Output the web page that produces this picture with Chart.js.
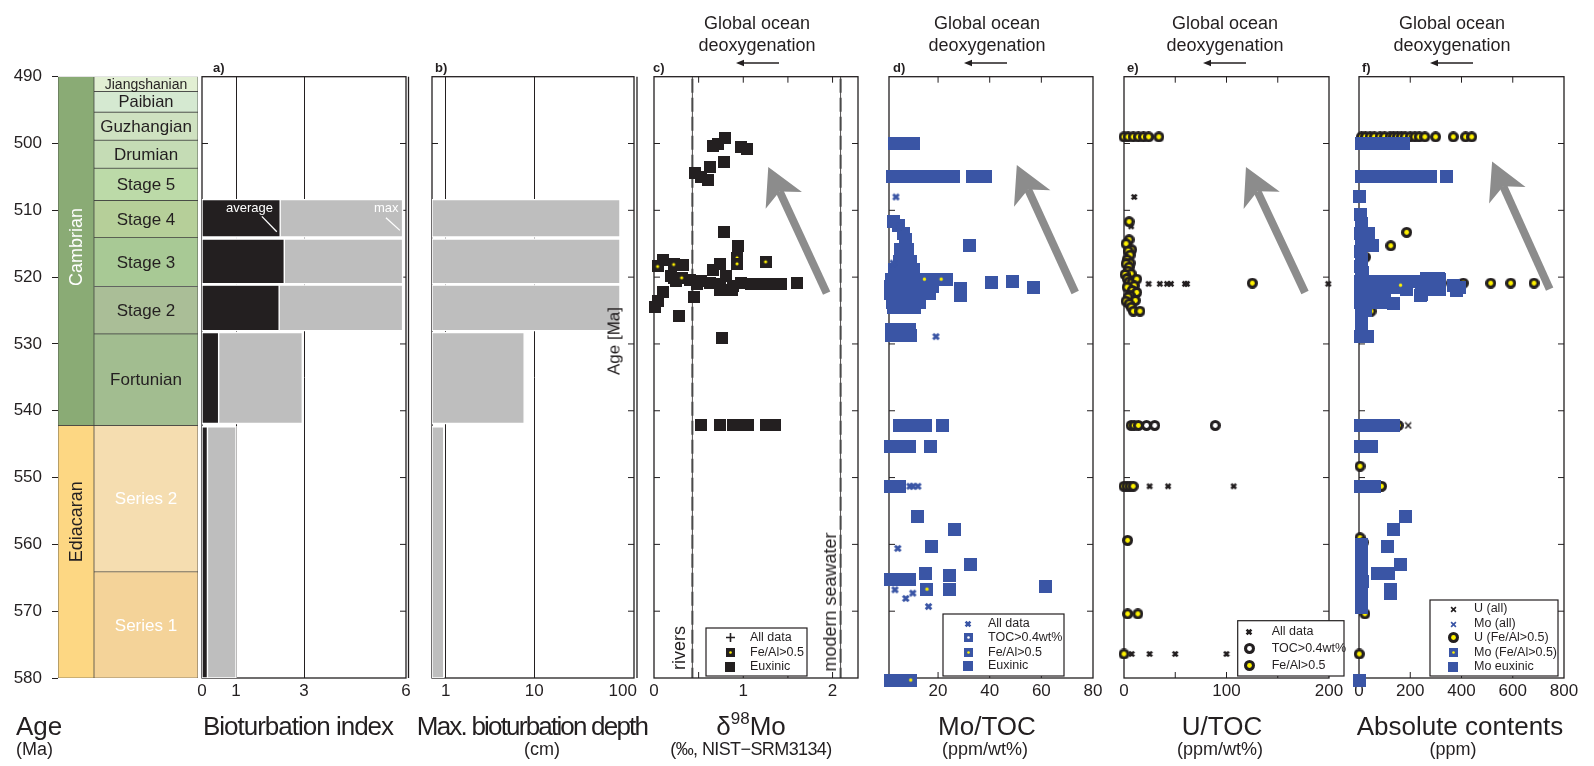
<!DOCTYPE html>
<html>
<head>
<meta charset="utf-8">
<script src="https://cdn.jsdelivr.net/npm/chart.js@4.4.1/dist/chart.umd.min.js"></script>
<style>
html, body { margin: 0; padding: 0; background: #fff; }
#wrap { position: relative; width: 1594px; height: 766px; overflow: hidden; font-family: 'Liberation Sans', Arial, sans-serif; color: #231f20; }
#wrap canvas { position: absolute; top: 0; }
.t { position: absolute; white-space: nowrap; line-height: 1; }
.ttl { font-size: 26px; top: 713px; transform: translateX(-50%); }
.sub { font-size: 18px; top: 740px; transform: translateX(-50%); }
.hdr { font-size: 18px; line-height: 21.5px; text-align: center; top: 13px; transform: translateX(-50%); }
.lab { font-size: 13px; font-weight: bold; top: 61px; }
.rot { transform: translate(-50%, -50%) rotate(-90deg); font-size: 18px; }
.arr { position: absolute; top: 58px; }
</style>
</head>
<body>
<div id="wrap">
  <canvas id="period"></canvas>
  <canvas id="stage"></canvas>
  <canvas id="panelA"></canvas>
  <canvas id="panelB"></canvas>
  <canvas id="panelC"></canvas>
  <canvas id="panelD"></canvas>
  <canvas id="panelE"></canvas>
  <canvas id="panelF"></canvas>

  <div class="t" style="left:16px;top:713px;font-size:26px">Age</div>
  <div class="t" style="left:16px;top:740px;font-size:18px">(Ma)</div>
  <div class="t ttl" style="left:298px;letter-spacing:-1px">Bioturbation index</div>
  <div class="t ttl" style="left:532px;letter-spacing:-1.8px">Max. bioturbation depth</div>
  <div class="t sub" style="left:542px">(cm)</div>
  <div class="t ttl" style="left:751px">δ<span style="font-size:17px;position:relative;top:-11px">98</span>Mo</div>
  <div class="t sub" style="left:751px;letter-spacing:-0.6px">(‰, NIST−SRM3134)</div>
  <div class="t ttl" style="left:987px">Mo/TOC</div>
  <div class="t sub" style="left:985px">(ppm/wt%)</div>
  <div class="t ttl" style="left:1222px">U/TOC</div>
  <div class="t sub" style="left:1220px">(ppm/wt%)</div>
  <div class="t ttl" style="left:1460px">Absolute contents</div>
  <div class="t sub" style="left:1453px">(ppm)</div>

  <div class="t hdr" style="left:757px">Global ocean<br>deoxygenation</div>
  <div class="t hdr" style="left:987px">Global ocean<br>deoxygenation</div>
  <div class="t hdr" style="left:1225px">Global ocean<br>deoxygenation</div>
  <div class="t hdr" style="left:1452px">Global ocean<br>deoxygenation</div>
  <svg class="arr" style="left:736px" width="43" height="10"><line x1="5" y1="5" x2="43" y2="5" stroke="#231f20" stroke-width="1.3"/><path d="M0 5 L8 1.8 L8 8.2 Z" fill="#231f20"/></svg>
  <svg class="arr" style="left:964px" width="43" height="10"><line x1="5" y1="5" x2="43" y2="5" stroke="#231f20" stroke-width="1.3"/><path d="M0 5 L8 1.8 L8 8.2 Z" fill="#231f20"/></svg>
  <svg class="arr" style="left:1203px" width="43" height="10"><line x1="5" y1="5" x2="43" y2="5" stroke="#231f20" stroke-width="1.3"/><path d="M0 5 L8 1.8 L8 8.2 Z" fill="#231f20"/></svg>
  <svg class="arr" style="left:1430px" width="43" height="10"><line x1="5" y1="5" x2="43" y2="5" stroke="#231f20" stroke-width="1.3"/><path d="M0 5 L8 1.8 L8 8.2 Z" fill="#231f20"/></svg>

  <div class="t lab" style="left:213px">a)</div>
  <div class="t lab" style="left:435px">b)</div>
  <div class="t lab" style="left:653px">c)</div>
  <div class="t lab" style="left:893px">d)</div>
  <div class="t lab" style="left:1127px">e)</div>
  <div class="t lab" style="left:1362px">f)</div>

  <div class="t" style="left:226px;top:201px;font-size:13px;color:#fff">average</div>
  <div class="t" style="left:374px;top:201px;font-size:13px;color:#fff">max</div>
  <div class="t rot" style="left:614px;top:341px;font-size:17px">Age [Ma]</div>
  <div class="t rot" style="left:679px;top:648px">rivers</div>
  <div class="t rot" style="left:830px;top:602px">modern seawater</div>
</div>

<script>
const INK = "#231f20";
const FONT = "'Liberation Sans', Arial, sans-serif";
const YELLOW = "#fff200";
const BLUE = "#3a55a5";
const BAR_GREY = "#bebebe";

const PADX = 30, TOP = 76.7, BOTTOM = 678, XAXIS_H = 40, H = 766;

// ---- age axis ----
const ageTicks = [490, 500, 510, 520, 530, 540, 550, 560, 570, 580];

// ---- timescale ----
const periodNames = ["Cambrian", "Ediacaran"];
const periodTop = [490, 542.2];
const periodBase = [542.2, 580];
const periodColors = ["#8aab75", "#fdd783"];
const periodTextColors = ["#ffffff", INK];
const periodLabelAge = [515.5, 556.6];

const stageNames = ["Jiangshanian", "Paibian", "Guzhangian", "Drumian", "Stage 5", "Stage 4", "Stage 3", "Stage 2", "Fortunian", "Series 2", "Series 1"];
const stageTop = [490, 492.2, 495.3, 499.5, 503.7, 508.5, 514.1, 521.4, 528.5, 542.2, 564.1];
const stageBase = [492.2, 495.3, 499.5, 503.7, 508.5, 514.1, 521.4, 528.5, 542.2, 564.1, 580];
const stageColors = ["#e2efd3", "#d5e9d1", "#cfe2c1", "#c5dcb5", "#bcdaa8", "#b6cf99", "#a8c995", "#aabe97", "#a2bd90", "#f5ddb0", "#f4d399"];
const stageTextColors = [INK, INK, INK, INK, INK, INK, INK, INK, INK, "#ffffff", "#ffffff"];
const stageFontSize = [14, 16.5, 17, 17, 17, 17, 17, 17, 17, 17, 17];

// ---- a) bioturbation index and b) max. depth ----
const intervalTop = [508.4, 514.3, 521.2, 528.3, 542.4];
const intervalBase = [514.0, 521.0, 528.0, 541.9, 580];
const bioIndexAvg = [2.3, 2.42, 2.27, 0.49, 0.16];
const bioIndexMax = [5.9, 5.9, 5.9, 2.95, 1.0];
const maxDepthCm = [93, 93, 93, 7.7, 0.95];
const aTickLabels = [0, 1, 3, 6];
const bTickLabels = [1, 10, 100];
const bGridAt = [1, 10];

// ---- c) d98Mo  [value, age] ----
const cAllData = [];
const cFeAl = [[0.93, 517.1], [0.93, 518.0], [1.25, 517.7], [0.04, 518.4], [0.22, 518.1], [0.31, 520.1]];
const cEuxinic = [
  [0.66, 500.3], [0.72, 500.0], [0.80, 499.2], [0.97, 500.5], [1.04, 500.8], [0.63, 503.5], [0.78, 502.8],
  [0.46, 504.4], [0.53, 505.0], [0.60, 505.4],
  [0.78, 513.3], [0.94, 515.3], [0.10, 517.5], [0.32, 518.2], [0.22, 520.1], [0.19, 519.9], [0.25, 520.6],
  [0.40, 520.4], [0.53, 520.6], [0.48, 521.0], [0.66, 518.9], [0.74, 518.1], [0.63, 520.9], [0.74, 521.1],
  [0.81, 519.9], [0.89, 521.4], [0.98, 520.9], [1.09, 521.0], [1.22, 521.1], [1.32, 521.0], [1.42, 521.0],
  [1.60, 520.9], [0.74, 521.9], [0.87, 521.9], [0.10, 522.3], [0.05, 523.6], [0.01, 524.5], [0.45, 522.9],
  [0.28, 525.8], [0.76, 529.1],
  [0.53, 542.2], [0.74, 542.2], [0.89, 542.2], [1.0, 542.2], [1.05, 542.2], [1.25, 542.2], [1.35, 542.2]
];
const cTickLabels = [0, 1, 2];
const cInnerTicks = [0.5, 1, 1.5, 2];
const cRefLines = [0.43, 2.09];

// ---- d) Mo/TOC ----
const dAllData = [[3.7, 508], [5, 512.4], [2.6, 517.9], [19.2, 528.9], [9.1, 551.3], [10.3, 551.3], [12.2, 551.3],
  [4.4, 560.6], [3.3, 566.8], [7.5, 568.1], [10.2, 567.3], [16.3, 569.3]];
const dToc = [];
const dFeAl = [[14.7, 520.3], [21.2, 520.3], [15.7, 566.7], [9.4, 580.3]];
const dEuxinic = [
  [3, 500], [4.5, 500], [6, 500], [7.5, 500], [9, 500], [10.5, 500],
  [2.5, 505], [4, 505], [6, 505], [8, 505], [10, 505], [12, 505], [14, 505], [16, 505], [18, 505], [20, 505],
  [22, 505], [24, 505], [26, 505], [33.4, 505], [38.5, 505],
  [2.6, 511.7], [4.5, 512.2], [6.8, 513.4], [7.2, 514.4], [5.3, 515.9], [8, 515.9], [4.9, 517.6], [7.6, 517.6],
  [9.5, 517.6], [3.3, 518.9], [6.4, 518.9], [10.3, 518.9],
  [1.8, 520.4], [4.5, 520.4], [7.2, 520.4], [9.9, 520.4], [12.6, 520.4], [18, 520.4], [23.1, 520.4],
  [1.4, 521.4], [4.1, 521.4], [6.8, 521.4], [9.5, 521.4], [12.2, 521.4], [14.9, 521.4], [17.7, 521.4],
  [1.4, 522.5], [4.1, 522.5], [6.8, 522.5], [9.5, 522.5], [12.2, 522.5], [14.9, 522.5], [16.5, 522.5],
  [2.2, 523.8], [4.9, 523.8], [7.6, 523.8], [10.3, 523.8], [13, 523.8],
  [2.9, 524.6], [5.7, 524.6], [8.4, 524.6], [11, 524.6],
  [28.7, 521.7], [28.7, 522.7], [32, 515.3], [40.8, 520.8], [48.7, 520.7], [57, 521.6],
  [1.8, 527.9], [4.1, 527.9], [6.4, 527.9], [8.8, 527.9], [2, 528.7], [4.5, 528.7], [7, 528.7], [9.3, 528.7],
  [5, 542.2], [7, 542.2], [9, 542.2], [11, 542.2], [13, 542.2], [15, 542.2], [21.9, 542.2],
  [1.5, 545.3], [3.5, 545.3], [5.5, 545.3], [7.5, 545.3], [9, 545.3], [16.9, 545.3],
  [1.5, 551.3], [3, 551.3], [5, 551.3],
  [12, 555.9], [26.5, 557.8], [17.3, 560.3], [32.7, 563],
  [1.5, 565.3], [3.5, 565.3], [5.5, 565.3], [7.5, 565.3], [9, 565.3], [15.2, 564.4], [24.6, 564.6], [24.6, 566.8],
  [61.7, 566.3],
  [1.5, 580.4], [3.5, 580.4], [5.5, 580.4]
];
const dTickLabels = [20, 40, 60, 80];
const dInnerTicks = [20, 40, 60];

// ---- e) U/TOC ----
const eAllData = [[10, 508], [7, 512.4], [24, 521], [35, 521], [42, 521], [45.8, 521], [59.5, 521], [61.5, 521],
  [199.3, 521], [25, 551.3], [43, 551.3], [107, 551.3], [7.5, 576.4], [25, 576.4], [50, 576.4], [100, 576.4]];
const eToc = [[22, 542.2], [30, 542.2], [89, 542.2]];
const eFeAl = [
  [0, 499], [4, 499], [9, 499], [14, 499], [19, 499], [24, 499], [34, 499],
  [5, 511.7], [5, 514.4], [2, 515], [7.5, 515.9], [4, 516.1], [6, 516.7], [3, 517.4], [6, 517.9], [2, 518],
  [5, 518.5], [4, 519.1], [7, 519.5], [1, 519.6], [3, 520.2], [5, 520.7], [8, 520.8], [12.4, 520.3],
  [10, 521.3], [3, 521.5], [8, 522], [12.4, 522.3], [6, 522.8], [4, 523], [11, 523.5], [2, 523.6], [5, 524],
  [7, 524.5], [9.1, 525.1], [15.6, 525.1], [125.2, 520.9],
  [7, 542.2], [10, 542.2], [14, 542.2], [0, 551.3], [3, 551.3], [6, 551.3], [9, 551.3],
  [3.5, 559.4], [3.5, 570.4], [13.5, 570.4], [0, 576.4]
];
const eTickLabels = [0, 100, 200];
const eInnerTicks = [50, 100, 150];

// ---- f) absolute contents ----
const fUAll = [[192, 542.2]];
const fMoAll = [];
const fUFeAl = [
  [10, 499], [25, 499], [43, 499], [60, 499], [82, 499], [100, 499], [121, 499], [135, 499], [150, 499],
  [165, 499], [180, 499], [200, 499], [218, 499], [235, 499], [257, 499], [299, 499], [368, 499], [416, 499], [440, 499],
  [186, 513.3], [124, 515.3], [25, 517], [0, 520.9],
  [160, 520.9], [322, 520.9], [407, 520.9], [514, 520.9], [592, 520.9], [683, 520.9], [47, 525.1], [20, 524.5],
  [10, 542.2], [60, 542.2], [100, 542.2], [153, 542.2], [4, 548.3], [88, 551.3],
  [4, 559], [17, 559.7], [23, 570.4], [1, 576.4]
];
const fMoFeAl = [[162, 521.2]];
const fMoEuxinic = [
  [8, 500], [25, 500], [45, 500], [65, 500], [85, 500], [105, 500], [125, 500], [145, 500], [165, 500], [175, 500],
  [8, 505], [28, 505], [48, 505], [68, 505], [88, 505], [108, 505], [128, 505], [148, 505], [168, 505], [188, 505],
  [208, 505], [228, 505], [248, 505], [268, 505], [280, 505], [342, 505],
  [1, 508], [5, 510.7], [8, 512], [36, 513.4], [5, 513.5], [10, 514.8], [53, 515.3], [5, 516.2], [10, 517.4],
  [5, 518.4], [15, 519.3], [8, 519.8],
  [5, 520.6], [25, 520.6], [45, 520.6], [65, 520.6], [85, 520.6], [105, 520.6], [125, 520.6], [145, 520.6],
  [185, 520.6], [205, 520.6], [225, 520.6],
  [5, 521.6], [25, 521.6], [45, 521.6], [65, 521.6], [85, 521.6], [105, 521.6], [125, 521.6], [145, 521.6],
  [165, 521.6], [186, 521.8],
  [269, 520.3], [316, 520.3], [264, 520.2], [296, 520.5], [309, 520.2], [244, 522.6], [269, 521.8], [316, 521.8],
  [368, 521.3], [380, 522], [393, 521.5], [240, 522.8],
  [5, 522.7], [20, 522.7], [40, 522.7], [60, 522.7], [80, 522.7], [100, 522.7],
  [5, 523.8], [25, 523.8], [45, 523.8], [70, 523.8], [90, 523.8], [134, 523.9],
  [8, 525], [25, 525], [8, 526.3], [8, 527.6], [5, 528.9], [20, 528.9], [35, 528.9],
  [4, 542.2], [25, 542.2], [45, 542.2], [65, 542.2], [90, 542.2], [134, 542.2],
  [4, 545.3], [20, 545.3], [40, 545.3], [49, 545.3],
  [4, 551.3], [20, 551.3], [40, 551.3], [60, 551.3],
  [182, 555.9], [136, 557.8], [112, 560.3], [160, 563], [72, 564.4], [115, 564.4], [121, 566.7], [121, 567.3],
  [8, 560], [8, 561.5], [8, 563], [8, 564.5], [12, 565.5], [8, 566.5], [8, 568], [8, 569.5],
  [1, 580.3]
];
const fTickLabels = [0, 200, 400, 600, 800];
const fInnerTicks = [200, 400, 600];

// ---------- marker images ----------
function marker(size, draw) {
  const c = document.createElement("canvas");
  c.width = c.height = size;
  draw(c.getContext("2d"), size / 2, size);
  return c;
}
function square(size, color, dot) {
  return marker(size, (g, h, s) => {
    g.fillStyle = color;
    g.fillRect(0, 0, s, s);
    if (dot) { g.fillStyle = dot; g.beginPath(); g.arc(h, h, Math.max(1.3, s * 0.13), 0, Math.PI * 2); g.fill(); }
  });
}
function ring(size, inner) {
  return marker(size, (g, h) => {
    g.fillStyle = INK; g.beginPath(); g.arc(h, h, h, 0, Math.PI * 2); g.fill();
    g.fillStyle = inner; g.beginPath(); g.arc(h, h, h * 0.44, 0, Math.PI * 2); g.fill();
  });
}
function cross(size, color, lw) {
  return marker(size, (g, h, s) => {
    g.strokeStyle = color; g.lineWidth = lw;
    const m = lw / 2 + 0.3;
    g.beginPath(); g.moveTo(m, m); g.lineTo(s - m, s - m); g.moveTo(s - m, m); g.lineTo(m, s - m); g.stroke();
  });
}
function plus(size, color, lw) {
  return marker(size, (g, h, s) => {
    g.strokeStyle = color; g.lineWidth = lw;
    g.beginPath(); g.moveTo(h, 0); g.lineTo(h, s); g.moveTo(0, h); g.lineTo(s, h); g.stroke();
  });
}

// ---------- plugins ----------
function framePlugin(o) {
  return {
    id: "frame",
    beforeDatasetsDraw(chart) {
      const { ctx, chartArea: a, scales: { x, y } } = chart;
      ctx.save();
      ctx.strokeStyle = INK;
      ctx.lineWidth = 1.3;
      ctx.strokeRect(a.left, a.top, a.right - a.left, a.bottom - a.top);
      if (o.doubleRight) {
        ctx.beginPath(); ctx.moveTo(a.right + o.doubleRight, a.top); ctx.lineTo(a.right + o.doubleRight, a.bottom); ctx.stroke();
      }
      ctx.lineWidth = 1;
      ageTicks.slice(1, -1).forEach(v => {
        const py = y.getPixelForValue(v);
        ctx.beginPath();
        ctx.moveTo(a.left, py); ctx.lineTo(a.left + 6, py);
        ctx.moveTo(a.right, py); ctx.lineTo(a.right - 6, py);
        ctx.stroke();
      });
      (o.xTicks || []).forEach(v => {
        const px = x.getPixelForValue(v);
        ctx.beginPath();
        ctx.moveTo(px, a.top); ctx.lineTo(px, a.top + 6);
        ctx.moveTo(px, a.bottom); ctx.lineTo(px, a.bottom - 6);
        ctx.stroke();
      });
      ctx.restore();
    }
  };
}

function legendPlugin(o) {
  return {
    id: "boxLegend",
    afterDatasetsDraw(chart) {
      const { ctx, chartArea: a } = chart;
      const bx = a.left + o.x, by = a.bottom + o.y;
      ctx.save();
      ctx.fillStyle = "#fff";
      ctx.fillRect(bx, by, o.w, o.h);
      ctx.strokeStyle = INK; ctx.lineWidth = 1.2;
      ctx.strokeRect(bx, by, o.w, o.h);
      ctx.font = "12.5px " + FONT;
      ctx.textBaseline = "middle";
      ctx.fillStyle = INK;
      chart.data.datasets.forEach((ds, i) => {
        const ry = by + o.rows[i];
        const img = ds.legendStyle;
        ctx.drawImage(img, Math.round(bx + o.mx - img.width / 2), Math.round(ry - img.height / 2));
        ctx.fillText(ds.label, bx + o.tx, ry);
      });
      ctx.restore();
    }
  };
}

function arrowPlugin(from, to) {
  return {
    id: "bigArrow",
    afterDatasetsDraw(chart) {
      const { ctx, scales: { x, y } } = chart;
      const x0 = x.getPixelForValue(from[0]), y0 = y.getPixelForValue(from[1]);
      const x1 = x.getPixelForValue(to[0]), y1 = y.getPixelForValue(to[1]);
      const L = Math.hypot(x1 - x0, y1 - y0);
      const ux = (x1 - x0) / L, uy = (y1 - y0) / L, nx = -uy, ny = ux;
      const headL = 37, headW = 20, notch = 27, sw = 4;
      const sx = x1 - ux * notch, sy = y1 - uy * notch;
      const bx = x1 - ux * headL, by = y1 - uy * headL;
      ctx.save();
      ctx.fillStyle = "#8c8c8c";
      ctx.beginPath();
      ctx.moveTo(x0 + nx * sw, y0 + ny * sw);
      ctx.lineTo(sx + nx * sw, sy + ny * sw);
      ctx.lineTo(sx - nx * sw, sy - ny * sw);
      ctx.lineTo(x0 - nx * sw, y0 - ny * sw);
      ctx.closePath();
      ctx.fill();
      ctx.beginPath();
      ctx.moveTo(x1, y1);
      ctx.lineTo(bx + nx * headW, by + ny * headW);
      ctx.lineTo(sx, sy);
      ctx.lineTo(bx - nx * headW, by - ny * headW);
      ctx.closePath();
      ctx.fill();
      ctx.restore();
    }
  };
}

// reference lines (rivers, modern seawater) in c)
const refLinePlugin = {
  id: "refLines",
  beforeDatasetsDraw(chart) {
    const { ctx, chartArea: a, scales: { x } } = chart;
    ctx.save();
    cRefLines.forEach(v => {
      const px = x.getPixelForValue(v);
      ctx.strokeStyle = INK; ctx.lineWidth = 0.8; ctx.setLineDash([]);
      ctx.beginPath(); ctx.moveTo(px, a.top); ctx.lineTo(px, a.bottom); ctx.stroke();
      ctx.strokeStyle = "#4a4a4a"; ctx.lineWidth = 2; ctx.setLineDash([14, 5]);
      ctx.beginPath(); ctx.moveTo(px, a.top + 2); ctx.lineTo(px, a.bottom); ctx.stroke();
    });
    ctx.restore();
  }
};

// white leader lines for "average" / "max" in a)
const leaderPlugin = {
  id: "leaders",
  afterDatasetsDraw(chart) {
    const { ctx, scales: { x, y } } = chart;
    ctx.save();
    ctx.strokeStyle = "#fff"; ctx.lineWidth = 1.3;
    [[[1.76, 510.9], [2.2, 513.2]], [[5.41, 511.1], [5.82, 513.0]]].forEach(([p, q]) => {
      ctx.beginPath();
      ctx.moveTo(x.getPixelForValue(p[0]), y.getPixelForValue(p[1]));
      ctx.lineTo(x.getPixelForValue(q[0]), y.getPixelForValue(q[1]));
      ctx.stroke();
    });
    ctx.restore();
  }
};

// names written inside the timescale boxes
const boxTextPlugin = {
  id: "boxText",
  afterDatasetsDraw(chart) {
    const { ctx, scales: { y } } = chart;
    ctx.save();
    ctx.textAlign = "center";
    ctx.textBaseline = "middle";
    chart.data.datasets.forEach((ds, i) => {
      const el = chart.getDatasetMeta(i).data[0];
      const cy = ds.labelAge ? y.getPixelForValue(ds.labelAge) : (el.y + el.base) / 2;
      ctx.fillStyle = ds.textColor;
      ctx.font = ds.fontSize + "px " + FONT;
      ctx.save();
      ctx.translate(el.x, cy);
      if (ds.rotate) ctx.rotate(-Math.PI / 2);
      ctx.fillText(ds.label, 0, 1);
      ctx.restore();
    });
    ctx.restore();
  }
};

// ---------- builders ----------
function setCanvas(id, left, width) {
  const cv = document.getElementById(id);
  cv.width = width;
  cv.height = H;
  cv.style.left = left + "px";
  return cv;
}

function xAxis(type, min, max, labels, gridAt, z) {
  return {
    type, min, max, position: "bottom", z: z || 0,
    afterBuildTicks: s => { s.ticks = labels.map(v => ({ value: v })); },
    afterFit: s => { s.height = XAXIS_H; },
    border: { display: false },
    grid: {
      display: !!gridAt, drawTicks: false, lineWidth: 1,
      color: c => (gridAt && gridAt.includes(c.tick.value)) ? INK : "rgba(0,0,0,0)"
    },
    ticks: { autoSkip: false, maxRotation: 0, padding: 3, color: INK, font: { family: FONT, size: 17 }, callback: v => String(v) }
  };
}

function ageAxis(show) {
  return {
    type: "linear", min: 490, max: 580, reverse: true, stacked: false, display: show, position: "left",
    afterFit: s => { if (show) s.width = 58; },
    border: { display: false },
    grid: { drawOnChartArea: false, drawTicks: true, tickLength: 6, color: INK, lineWidth: 1 },
    ticks: { stepSize: 10, padding: 10, color: INK, font: { family: FONT, size: 17 } }
  };
}

function columnChart(id, left, width, names, tops, bases, colors, textColors, showAxis, extra) {
  const cv = setCanvas(id, left, width);
  const datasets = names.map((n, i) => Object.assign({
    label: n,
    data: [[tops[i], bases[i]]],
    backgroundColor: colors[i],
    borderColor: "#3d3d3d",
    borderWidth: 0.7,
    borderSkipped: false,
    barPercentage: 1,
    categoryPercentage: 1,
    textColor: textColors[i]
  }, extra(i)));
  return new Chart(cv, {
    type: "bar",
    data: { labels: [""], datasets },
    options: {
      responsive: false, animation: false, devicePixelRatio: 1, events: [],
      layout: { padding: { left: 0, right: 0, top: TOP, bottom: H - BOTTOM } },
      plugins: { legend: { display: false }, tooltip: { enabled: false } },
      scales: { x: { stacked: true, display: false }, y: ageAxis(showAxis) }
    },
    plugins: [boxTextPlugin]
  });
}

function panelChart(id, left, width, x, datasets, plugins) {
  const cv = setCanvas(id, left - PADX, width + 2 * PADX);
  return new Chart(cv, {
    type: "scatter",
    data: { datasets },
    options: {
      responsive: false, animation: false, devicePixelRatio: 1, events: [],
      layout: { padding: { left: PADX, right: PADX, top: TOP, bottom: H - BOTTOM - XAXIS_H } },
      plugins: { legend: { display: false }, tooltip: { enabled: false } },
      scales: { x, y: { type: "linear", min: 490, max: 580, reverse: true, display: false } }
    },
    plugins
  });
}

function pts(list) { return list.map(([x, y]) => ({ x, y })); }

function series(label, list, style, legendStyle, order) {
  return { label, data: pts(list), pointStyle: style, legendStyle, pointRadius: 6, pointBorderWidth: 0, order, clip: false };
}

function rect(x0, x1, top, base, color, order) {
  return {
    data: [{ x: x0, y: top }, { x: x1, y: top }, { x: x1, y: base }, { x: x0, y: base }, { x: x0, y: top }],
    showLine: true, fill: "shape", backgroundColor: color, borderColor: "#ffffff", borderWidth: 1.4,
    pointRadius: 0, order, tension: 0
  };
}

// ---------- timescale ----------
columnChart("period", 0, 94, periodNames, periodTop, periodBase, periodColors, periodTextColors, true,
  i => ({ rotate: true, fontSize: 18, labelAge: periodLabelAge[i] }));
columnChart("stage", 94, 104, stageNames, stageTop, stageBase, stageColors, stageTextColors, false,
  i => ({ rotate: false, fontSize: stageFontSize[i] }));

// ---------- a) ----------
const aSets = [];
intervalTop.forEach((t, i) => {
  aSets.push(rect(0, bioIndexAvg[i], t, intervalBase[i], INK, 0));
  aSets.push(rect(0, bioIndexMax[i], t, intervalBase[i], BAR_GREY, 1));
});
panelChart("panelA", 202, 204, xAxis("linear", 0, 6, aTickLabels, [1, 3]), aSets,
  [framePlugin({ doubleRight: 2.5 }), leaderPlugin]);

// ---------- b) ----------
const bSets = intervalTop.map((t, i) => rect(0.7, maxDepthCm[i], t, intervalBase[i], BAR_GREY, 1));
panelChart("panelB", 432, 202, xAxis("logarithmic", 0.7, 134, bTickLabels, bGridAt, 1), bSets,
  [framePlugin({ doubleRight: 3 })]);

// ---------- c) ----------
const sqBlack = square(12, INK), sqBlackY = square(12, INK, YELLOW);
panelChart("panelC", 654, 204, xAxis("linear", 0, 2.285, cTickLabels), [
  series("All data", cAllData, plus(9, INK, 1.6), plus(9, INK, 1.6), 2),
  series("Fe/Al>0.5", cFeAl, sqBlackY, square(9, INK, YELLOW), 0),
  series("Euxinic", cEuxinic, sqBlack, square(10, INK), 1)
], [refLinePlugin, framePlugin({ xTicks: cInnerTicks }),
  legendPlugin({ x: 52, y: -50, w: 101, h: 48, mx: 24, tx: 44, rows: [9.7, 24.7, 38.7] }),
  arrowPlugin([1.934, 522.4], [1.28, 503.5])]);

// ---------- d) ----------
panelChart("panelD", 889, 204, xAxis("linear", 1, 80, dTickLabels), [
  series("All data", dAllData, cross(9, BLUE, 2.8), cross(8, BLUE, 2.6), 0),
  series("TOC>0.4wt%", dToc, square(13, BLUE, "#ffffff"), square(9, BLUE, "#ffffff"), 1),
  series("Fe/Al>0.5", dFeAl, square(13, BLUE, YELLOW), square(9, BLUE, YELLOW), 1),
  series("Euxinic", dEuxinic, square(13, BLUE), square(10, BLUE), 2)
], [framePlugin({ xTicks: dInnerTicks }),
  legendPlugin({ x: 54, y: -64, w: 121, h: 62, mx: 25, tx: 45, rows: [10, 23.3, 38.7, 52] }),
  arrowPlugin([73.1, 522.3], [50.5, 503.2])]);

// ---------- e) ----------
panelChart("panelE", 1124, 205, xAxis("linear", 0, 200, eTickLabels), [
  series("All data", eAllData, cross(8, INK, 2.6), cross(8, INK, 2.6), 2),
  series("TOC>0.4wt%", eToc, ring(11, "#ffffff"), ring(11, "#ffffff"), 1),
  series("Fe/Al>0.5", eFeAl, ring(11, YELLOW), ring(11, YELLOW), 0)
], [framePlugin({ xTicks: eInnerTicks }),
  legendPlugin({ x: 113.7, y: -57.3, w: 106.3, h: 55.3, mx: 11.3, tx: 34, rows: [11, 27.6, 45] }),
  arrowPlugin([176.6, 522.3], [119, 503.5])]);

// ---------- f) ----------
panelChart("panelF", 1359, 205, xAxis("linear", 0, 800, fTickLabels), [
  series("U (all)", fUAll, cross(8, INK, 1.5), cross(7, INK, 1.6), 0),
  series("Mo (all)", fMoAll, cross(8, BLUE, 1.5), cross(7, BLUE, 1.6), 0),
  series("U (Fe/Al>0.5)", fUFeAl, ring(11, YELLOW), ring(11, YELLOW), 3),
  series("Mo (Fe/Al>0.5)", fMoFeAl, square(13, BLUE, YELLOW), square(9, BLUE, YELLOW), 1),
  series("Mo euxinic", fMoEuxinic, square(13, BLUE), square(10, BLUE), 2)
], [framePlugin({ xTicks: fInnerTicks }),
  legendPlugin({ x: 71, y: -78, w: 128, h: 76, mx: 23, tx: 44, rows: [9, 24, 37.7, 52.7, 66.7] }),
  arrowPlugin([744, 521.8], [519.5, 502.7])]);
</script>
</body>
</html>
